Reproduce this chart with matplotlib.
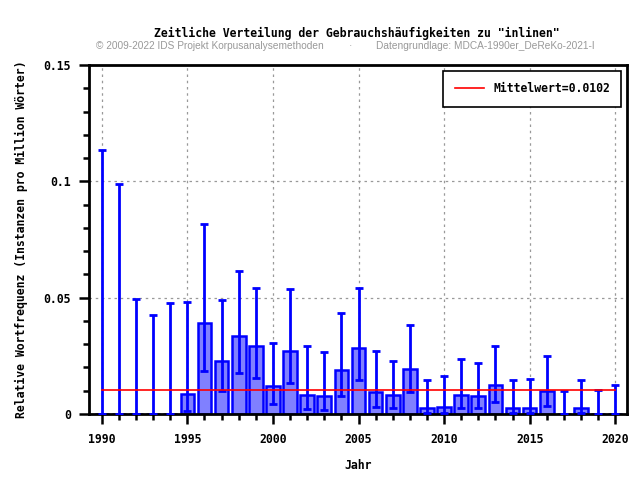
import matplotlib
matplotlib.use("Agg")
import matplotlib.pyplot as plt
from matplotlib.ticker import MultipleLocator
import numpy as np

years = list(range(1990, 2021))
freq = [0, 0, 0, 0, 0, 0.0085, 0.0392, 0.0226, 0.0334, 0.0294,
        0.0119, 0.0269, 0.0080, 0.0076, 0.0188, 0.0282, 0.0093, 0.0080,
        0.0192, 0.0027, 0.0031, 0.0080, 0.0076, 0.0123, 0.0027, 0.0027,
        0.0098, 0, 0.0027, 0, 0]
err_low = [0, 0, 0, 0, 0, 0.0014, 0.0186, 0.0099, 0.0178, 0.0156,
           0.0044, 0.0135, 0.0023, 0.0019, 0.0079, 0.0147, 0.0031, 0.0027,
           0.0096, 0.0003, 0.0004, 0.0027, 0.0027, 0.0053, 0.0003, 0.0003,
           0.0036, 0, 0.0003, 0, 0]
err_high = [0.1135, 0.0989, 0.0496, 0.0427, 0.0478, 0.0483, 0.0818, 0.0491,
            0.0616, 0.0543, 0.0306, 0.0539, 0.0291, 0.0268, 0.0435, 0.0543,
            0.0272, 0.0229, 0.0384, 0.0147, 0.0162, 0.0238, 0.0221, 0.0294,
            0.0147, 0.0152, 0.0251, 0.0100, 0.0147, 0.0104, 0.0123]
mean_value = 0.0102

mono = "DejaVu Sans Mono"

fig = plt.figure(figsize=(6.4, 4.8), dpi=100)
ax = fig.add_axes([0.139, 0.1375, 0.841, 0.727])

f = np.array(freq)
lo = f - np.array(err_low)
hi = np.array(err_high) - f

ax.bar(years, freq, width=0.8, color="#8080ff", edgecolor="#0000ff",
       linewidth=1.8, zorder=2)
ax.errorbar(years, freq, yerr=[lo, hi], fmt="none", ecolor="#0000ff",
            elinewidth=2, capsize=3, capthick=2, zorder=3)
ax.plot([1990, 2020], [mean_value, mean_value], color="red", linewidth=1.2,
        label="Mittelwert=%.4f" % mean_value, zorder=4)

ax.set_xlim(1989.25, 2020.7)
ax.set_ylim(0, 0.15)
ax.xaxis.set_major_locator(MultipleLocator(5))
ax.xaxis.set_minor_locator(MultipleLocator(1))
ax.yaxis.set_minor_locator(MultipleLocator(0.01))
ax.set_yticks([0, 0.05, 0.1, 0.15])
ax.set_yticklabels(["0", "0.05", "0.1", "0.15"])

ax.grid(True, which="major", color="#999999", linestyle=(0, (2, 3)), linewidth=0.9)
ax.set_axisbelow(True)
for s in ax.spines.values():
    s.set_linewidth(2)
ax.tick_params(which="major", direction="out", length=7, width=1.8, labelsize=8.3)
ax.tick_params(which="minor", direction="out", length=4, width=1.8)
ax.tick_params(axis="x", which="major", pad=7)
ax.tick_params(axis="y", which="major", pad=6)
for lab in ax.get_xticklabels() + ax.get_yticklabels():
    lab.set_fontfamily(mono)
    lab.set_fontweight("bold")

ax.set_xlabel("Jahr", fontfamily=mono, fontweight="bold", fontsize=8.3, labelpad=9)
ax.set_ylabel("Relative Wortfrequenz (Instanzen pro Million Wörter)",
              fontfamily=mono, fontweight="bold", fontsize=8.3, labelpad=11)

leg = ax.legend(loc="upper right", prop={"family": mono, "weight": "bold", "size": 8.3},
                fancybox=False, framealpha=1, edgecolor="black",
                borderpad=1.0, handlelength=2.5, borderaxespad=0.5)
leg.get_frame().set_linewidth(1.2)

fig.text(0.558, 0.931, 'Zeitliche Verteilung der Gebrauchshäufigkeiten zu "inlinen"',
         ha="center", va="center", fontfamily=mono, fontweight="bold", fontsize=8.3)
fig.text(0.150, 0.904, "© 2009-2022 IDS Projekt Korpusanalysemethoden",
         ha="left", va="center", fontfamily="Liberation Sans", fontsize=7.3, color="#999999")
fig.text(0.548, 0.904, "·", ha="center", va="center", fontfamily="Liberation Sans",
         fontsize=7.3, color="#999999")
fig.text(0.587, 0.904, "Datengrundlage: MDCA-1990er_DeReKo-2021-I",
         ha="left", va="center", fontfamily="Liberation Sans", fontsize=7.3, color="#999999")

fig.savefig("out.png", dpi=100)
